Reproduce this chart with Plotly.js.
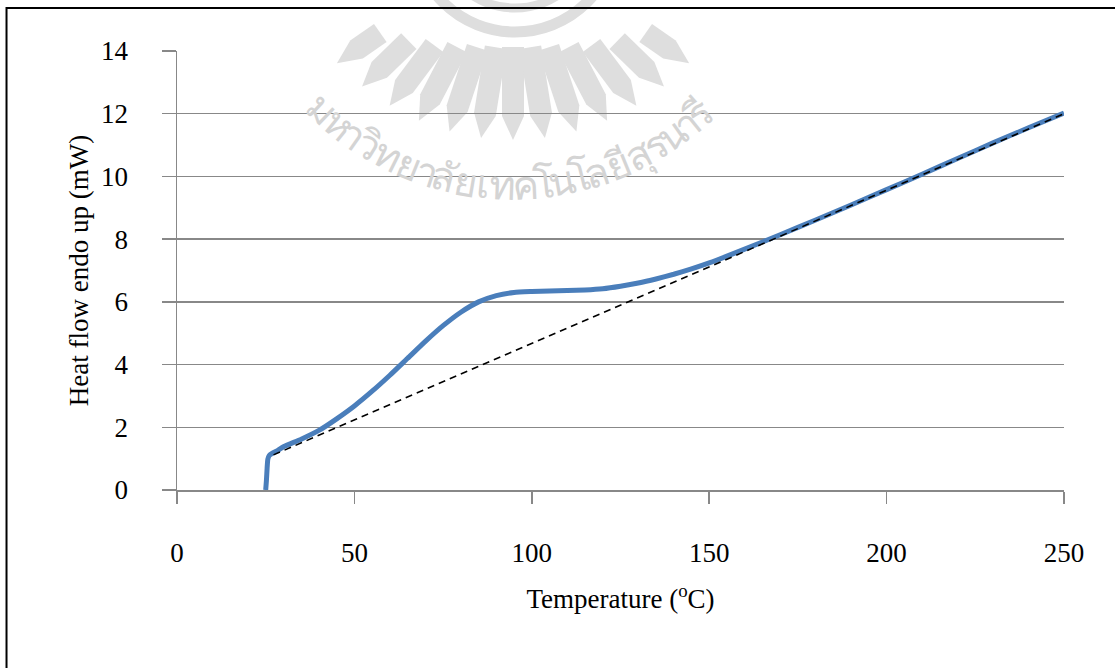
<!DOCTYPE html>
<html>
<head>
<meta charset="utf-8">
<script src="https://cdn.plot.ly/plotly-3.0.1.min.js"></script>
<style>html,body{margin:0;padding:0;background:#fff;}</style>
</head>
<body>
<div id="chart" style="width:1115px;height:668px;"></div>
<script>
// DSC curve (heat flow)
const tempC = [25.0, 25.2, 25.4, 25.6, 26.0, 27.0, 28.5, 30, 35, 40, 45, 50, 55, 60, 65, 70, 75, 80, 85, 90, 95, 100, 105, 110, 115, 120, 125, 130, 135, 140, 145, 150, 160, 170, 180, 190, 200, 210, 220, 230, 240, 250];
const heatFlow = [0.0, 0.3, 0.7, 0.98, 1.1, 1.18, 1.27, 1.38, 1.62, 1.9, 2.27, 2.68, 3.15, 3.66, 4.2, 4.74, 5.24, 5.67, 6.0, 6.2, 6.3, 6.33, 6.35, 6.36, 6.38, 6.42, 6.5, 6.6, 6.73, 6.88, 7.05, 7.24, 7.68, 8.14, 8.61, 9.09, 9.58, 10.07, 10.57, 11.07, 11.55, 12.02];
// Baseline (dashed)
const baseX = [27.2, 250];
const baseY = [1.12, 12.0];
// Axis ticks
const xTicks = [0, 50, 100, 150, 200, 250];
const yTicks = [0, 2, 4, 6, 8, 10, 12, 14];
// Watermark text (university name), split in grapheme clusters
const wmClusters = ['ม','ห','า','วิ','ท','ย','า','ลั','ย','เ','ท','ค','โ','น','โ','ล','ยี','สุ','ร','น','า','รี'];

const FONT = 'Liberation Serif, Times New Roman, serif';
const GRID = '#888888';
const WM = '#dedede';

// plot-area pixel geometry (margins)
const M = {l: 177, r: 51, t: 51, b: 178};
const W = 1115, H = 668;
const pw = W - M.l - M.r, ph = H - M.t - M.b;
const toPaper = (px, py) => [(px - M.l) / pw, (H - M.b - py) / ph];

// ---- watermark: rays of the logo ----
const shapes = [];
const C = [513, -60];
const nRays = 13;
for (let i = 0; i < nRays; i++) {
  const deg = -55 + i * 110 / (nRays - 1);
  const t = deg * Math.PI / 180;
  const f = Math.pow(deg / 55, 2);
  const r1 = 107 + 55 * f, r3 = 200 + 15 * f, r2 = r3 - 24, w = 11;
  const d = [Math.sin(t), Math.cos(t)], n = [Math.cos(t), -Math.sin(t)];
  const pt = (r, s) => toPaper(C[0] + r * d[0] + s * w * n[0], C[1] + r * d[1] + s * w * n[1]);
  const pts = [pt(r1, -1), pt(r2, -1), pt(r3, 0), pt(r2, 1), pt(r1, 1)];
  shapes.push({type: 'path', xref: 'paper', yref: 'paper', layer: 'below',
    path: 'M' + pts.map(p => p[0].toFixed(4) + ',' + p[1].toFixed(4)).join(' L') + ' Z',
    fillcolor: WM, line: {width: 0}});
}
// emblem rings on top
[[102, 11], [78, 9]].forEach(([r, lw]) => {
  const a = toPaper(515 - r, -70 - r), b = toPaper(515 + r, -70 + r);
  shapes.push({type: 'circle', xref: 'paper', yref: 'paper', layer: 'below',
    x0: a[0], x1: b[0], y0: b[1], y1: a[1], line: {color: WM, width: lw}, fillcolor: 'rgba(0,0,0,0)'});
});
// outer frame
shapes.push({type: 'rect', xref: 'paper', yref: 'paper', x0: -0.1922, x1: 1.06, y0: -0.43, y1: 1.098,
  line: {color: '#000', width: 2}, fillcolor: 'rgba(0,0,0,0)', layer: 'above'});

// ---- watermark text along an arc ----
const annotations = [];
const wts = wmClusters.map(c => (['า','เ','โ'].includes(c) ? 0.6 : (c === 'ร' ? 0.7 : (c === 'รี' ? 0.8 : 1))));
const total = wts.reduce((a, b) => a + b, 0);
const arcC = [513, -92], arcR = 276, a0 = -46, a1 = 44;
let acc = 0;
wmClusters.forEach((c, i) => {
  const mid = (acc + wts[i] / 2) / total; acc += wts[i];
  const deg = a0 + (a1 - a0) * mid, t = deg * Math.PI / 180;
  const p = toPaper(arcC[0] + arcR * Math.sin(t), arcC[1] + arcR * Math.cos(t));
  annotations.push({xref: 'paper', yref: 'paper', x: p[0], y: p[1], text: c, showarrow: false,
    textangle: -deg, xanchor: 'center', yanchor: 'middle',
    font: {family: 'Noto Sans, DejaVu Sans, sans-serif', size: 40, color: '#d4d4d4'}});
});

const traces = [
  {x: tempC, y: heatFlow, type: 'scatter', mode: 'lines',
   line: {color: '#4A7EBB', width: 5, shape: 'spline', smoothing: 0.5}, hoverinfo: 'skip'},
  {x: baseX, y: baseY, type: 'scatter', mode: 'lines',
   line: {color: '#000000', width: 1.6, dash: '7px,5px'}, hoverinfo: 'skip'}
];

const layout = {
  width: W, height: H,
  margin: M,
  paper_bgcolor: '#ffffff', plot_bgcolor: 'rgba(0,0,0,0)',
  showlegend: false,
  font: {family: FONT, color: '#000', size: 27},
  xaxis: {
    range: [0, 250], tickvals: xTicks, ticktext: xTicks.map(String),
    showgrid: false, zeroline: false,
    showline: true, linecolor: GRID, linewidth: 1.5,
    ticks: 'outside', ticklen: 12, tickcolor: GRID, tickwidth: 1.5,
    ticklabelstandoff: 26,
    tickfont: {family: FONT, size: 27, color: '#000'},
    title: {text: 'Temperature (<sup>o</sup>C)', font: {family: FONT, size: 27, color: '#000'}, standoff: 22}
  },
  yaxis: {
    range: [0, 14], tickvals: yTicks, ticktext: yTicks.map(String),
    showgrid: true, gridcolor: GRID, gridwidth: 1.5,
    zeroline: false,
    showline: true, linecolor: GRID, linewidth: 1.5,
    ticks: 'outside', ticklen: 14, tickcolor: GRID, tickwidth: 1.5,
    ticklabelstandoff: 28,
    tickfont: {family: FONT, size: 27, color: '#000'},
    title: {text: 'Heat flow endo up (mW)', font: {family: FONT, size: 27, color: '#000'}, standoff: 4}
  },
  shapes: shapes,
  annotations: annotations
};

Plotly.newPlot('chart', traces, layout, {staticPlot: true, displayModeBar: false});
</script>
</body>
</html>
